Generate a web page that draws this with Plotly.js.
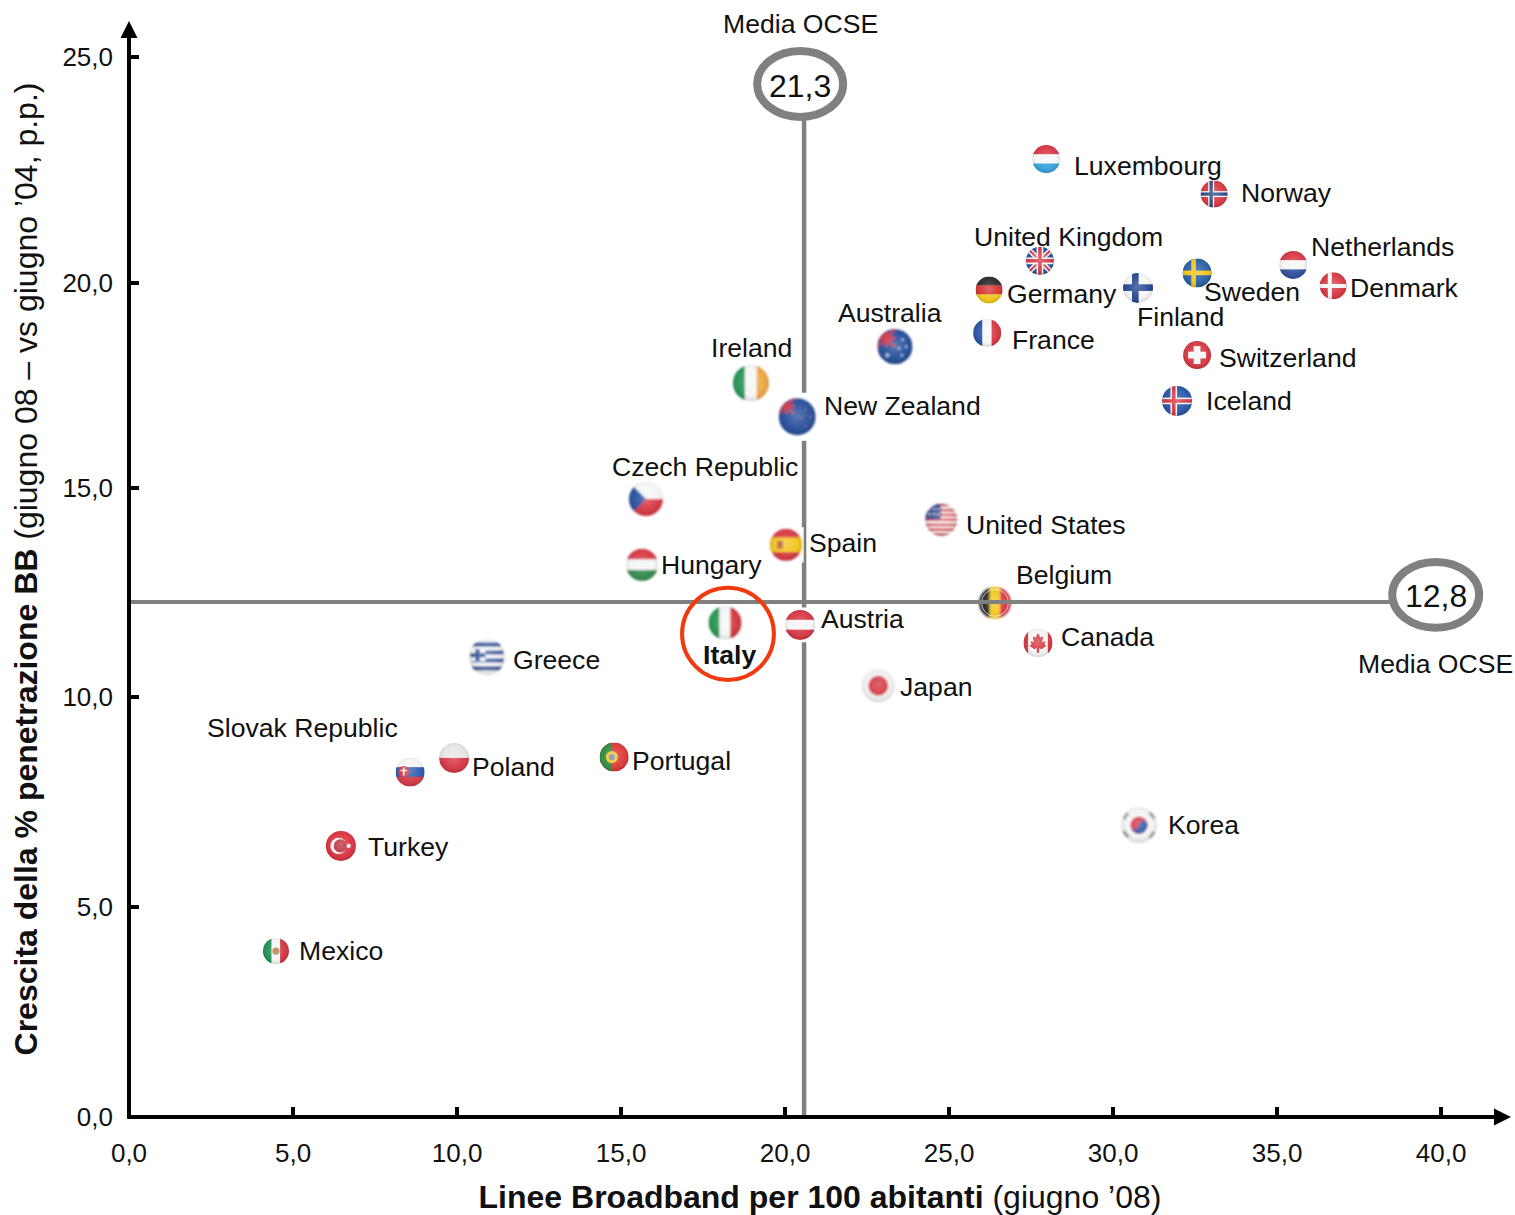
<!DOCTYPE html>
<html>
<head>
<meta charset="utf-8">
<script src="https://cdn.plot.ly/plotly-3.0.1.min.js"></script>
<style>html,body{margin:0;padding:0;background:#fff}#chart{width:1515px;height:1215px}</style>
</head>
<body>
<div id="chart"></div>
<script>
// ---- data ----
const countries = ["Luxembourg","Norway","United Kingdom","Netherlands","Sweden","Denmark","Germany","Finland","France","Switzerland","Iceland","Australia","Ireland","New Zealand","Czech Republic","Spain","Hungary","United States","Belgium","Italy","Austria","Canada","Japan","Greece","Slovak Republic","Poland","Portugal","Turkey","Mexico","Korea"];
const linesPer100 = [27.96,33.08,27.77,35.49,32.56,36.71,26.22,30.76,26.16,32.56,31.95,23.35,18.96,20.37,15.76,20.03,15.64,24.76,26.40,18.17,20.46,27.71,22.84,10.91,8.57,9.91,14.79,6.46,4.48,30.79];
const growth = [22.97,22.13,20.53,20.43,20.24,19.93,19.83,19.88,18.80,18.27,17.17,18.47,17.60,16.79,14.82,13.72,13.24,14.32,12.33,11.85,11.80,11.37,10.34,11.03,8.27,8.61,8.63,6.50,3.98,7.00];
const oecdLineX = 20.58;
const oecdLineY = 12.35;
const oecdValueX = "21,3";
const oecdValueY = "12,8";
const oecdLabel = "Media OCSE";
const xTickVals = [0,5,10,15,20,25,30,35,40];
const xTickText = ["0,0","5,0","10,0","15,0","20,0","25,0","30,0","35,0","40,0"];
// the original's vertical axis is not evenly spaced: tick positions are read from the picture
const yTickVals = [0,5.03,10.08,15.08,20,25.42];
const yTickText = ["0,0","5,0","10,0","15,0","20,0","25,0"];

// ---- layout helpers (not data) ----
const PXX = 32.8, PXY = 41.7;
const labelDx = [28,27,-66,18,7,17,18,-1,25,22,29,-57,-40,27,-34,23,19,25,21,-22,21,23,22,26,-203,18,18,27,23,29];
const labelDy = [-7,1,24,18,-19,-2,-4,-29,-7,-3,0,34,35,11,32,2,0,-5,28,-32,6,6,-1,-3,44,-9,-4,-1,0,0];
const flagPx = [28,27,28,28,29,27,27,30,28,28,30,35,36,37,34,32,32,32,32,33,30,29,33,36,29,30,29,30,26,36];
const halo = {"New Zealand":65,"Austria":58,"Spain":55};
const FONT = '"Liberation Sans", Arial, sans-serif';
const INK = '#111111', GREY = '#808080';

const R='#d5303c',W='#f6f6f6',B='#1f4a9c',G='#1d9148',Y='#f3c312',K='#222222';
const rect=(x,y,w,h,c)=>`<rect x="${x}" y="${y}" width="${w}" height="${h}" fill="${c}"/>`;
const hs=(a,b,c)=>rect(0,0,100,34,a)+rect(0,33,100,34,b)+rect(0,66,100,34,c);
const vs=(a,b,c)=>rect(0,0,34,100,a)+rect(33,0,34,100,b)+rect(66,0,34,100,c);
const nordic=(bg,o,i)=>rect(0,0,100,100,bg)+(o?rect(28,0,22,100,o)+rect(0,39,100,22,o):'')+rect(33,0,12,100,i)+rect(0,44,100,12,i);
const ukCorner=(s)=>`<g transform="scale(${s})"><rect width="100" height="100" fill="${B}"/><path d="M0 0L100 100M100 0L0 100" stroke="${W}" stroke-width="18"/><path d="M0 0L100 100M100 0L0 100" stroke="${R}" stroke-width="7"/><path d="M50 0V100M0 50H100" stroke="${W}" stroke-width="24"/><path d="M50 0V100M0 50H100" stroke="${R}" stroke-width="13"/></g>`;
const nzCorner=(s)=>`<g transform="scale(${s})"><rect width="100" height="100" fill="${B}"/><path d="M0 0L100 100M100 0L0 100" stroke="${R}" stroke-width="14"/><path d="M50 0V100M0 50H100" stroke="${R}" stroke-width="18"/></g>`;
const star=(x,y,r,c)=>`<circle cx="${x}" cy="${y}" r="${r}" fill="${c}"/>`;
const flags = {
 "Luxembourg":hs(R,W,'#2f9fdc'),
 "Norway":nordic(R,W,'#23417f'),
 "United Kingdom":ukCorner(1),
 "Netherlands":hs(R,W,'#27499a'),
 "Sweden":rect(0,0,100,100,'#1f5aa0')+rect(30,0,16,100,Y)+rect(0,42,100,16,Y),
 "Denmark":rect(0,0,100,100,R)+rect(30,0,15,100,W)+rect(0,43,100,15,W),
 "Germany":hs(K,'#d42a2a',Y),
 "Finland":rect(0,0,100,100,W)+rect(30,0,22,100,'#1d3f8f')+rect(0,38,100,22,'#1d3f8f'),
 "France":vs('#1f4ea3',W,R),
 "Switzerland":rect(0,0,100,100,R)+rect(38,18,24,64,W)+rect(18,38,64,24,W),
 "Iceland":nordic('#1f4fa5',W,R),
 "Australia":rect(0,0,100,100,'#1c4696')+nzCorner(.5)+star(72,30,4,'#9fb6dd')+star(82,50,4,'#9fb6dd')+star(62,55,4,'#9fb6dd')+star(70,75,4,'#9fb6dd')+star(28,75,6,'#9fb6dd'),
 "Ireland":vs('#1f9150',W,'#eea438'),
 "New Zealand":rect(0,0,100,100,'#1c4696')+nzCorner(.42)+star(72,30,3,'#8a5a8a')+star(85,50,3,'#8a5a8a')+star(62,55,3,'#8a5a8a')+star(72,75,3,'#8a5a8a'),
 "Czech Republic":rect(0,0,100,50,W)+rect(0,50,100,50,R)+'<path d="M0 0L50 50L0 100Z" fill="#1d4a9e"/>',
 "Spain":rect(0,0,100,100,R)+rect(0,27,100,46,Y)+rect(22,38,18,24,'#b0553a'),
 "Hungary":hs(R,W,'#2b8a49'),
 "United States":rect(0,0,100,100,W)+[0,16,31,46,62,77,92].map(y=>rect(0,y,100,8,R)).join('')+rect(0,0,48,48,'#26478f')+star(14,16,3,W)+star(28,16,3,W)+star(40,16,3,W)+star(14,32,3,W)+star(28,32,3,W)+star(40,32,3,W),
 "Belgium":vs(K,Y,R),
 "Italy":vs('#1d9148',W,'#cf2e36'),
 "Austria":hs(R,W,R),
 "Canada":rect(0,0,100,100,W)+rect(0,0,16,100,R)+rect(84,0,16,100,R)+`<path d="M50 16L58 32L68 28L64 48L76 44L72 56L80 60L62 72L54 68V84H46V68L38 72L20 60L28 56L24 44L36 48L32 28L42 32Z" fill="${R}"/>`,
 "Japan":rect(0,0,100,100,'#f2f2f2')+star(50,50,30,'#d22b36'),
 "Greece":rect(0,0,100,100,W)+[10,32,54,76].map(y=>rect(6,y,90,11,'#2a4f99')).join('')+rect(4,28,42,34,W)+rect(18,28,12,34,'#2a4f99')+rect(4,39,42,12,'#2a4f99'),
 "Slovak Republic":hs(W,'#2255ad',R)+star(28,48,19,R)+rect(25,34,6,28,W)+rect(17,42,22,5,W),
 "Poland":rect(0,0,100,50,'#e6e6e6')+rect(0,50,100,50,'#d4303c'),
 "Portugal":rect(0,0,100,100,'#d9322e')+rect(0,0,42,100,'#2b8a3c')+`<circle cx="42" cy="50" r="21" fill="#ecc22c"/><circle cx="42" cy="50" r="10" fill="#6d86b8"/>`,
 "Turkey":rect(0,0,100,100,'#d92c38')+`<circle cx="42" cy="50" r="27" fill="#f7f7f7"/><circle cx="48" cy="50" r="22" fill="#b82730"/>`+star(76,50,7,W),
 "Mexico":vs('#1c8c4d',W,'#cc2d38')+star(50,50,14,'#a8893b')+star(50,46,7,'#cc4a3a'),
 "Korea":rect(0,0,100,100,'#f4f4f4')+'<circle cx="50" cy="50" r="24" fill="#d4283c"/><path d="M26 50A12 12 0 0 0 50 50A12 12 0 0 1 74 50A24 24 0 0 1 26 50Z" fill="#1c4fa0"/>'+'<path d="M8 32L20 16M80 16L94 32M8 68L20 84M80 84L94 68" stroke="#555" stroke-width="9" stroke-dasharray="4 3" fill="none"/>'
};
function flagUri(name){
  const h = halo[name] ? `<rect x="${50-halo[name]}" y="${50-halo[name]}" width="${2*halo[name]}" height="${2*halo[name]}" fill="#fff"/>` : '';
  const svg = `<svg xmlns="http://www.w3.org/2000/svg" width="320" height="320" viewBox="-30 -30 160 160"><defs><clipPath id="c"><circle cx="50" cy="50" r="50"/></clipPath><filter id="b" x="-10%" y="-10%" width="120%" height="120%"><feGaussianBlur stdDeviation="2.6"/></filter><radialGradient id="g" cx="50%" cy="46%" r="55%"><stop offset="0" stop-color="#fff" stop-opacity=".28"/><stop offset=".65" stop-color="#fff" stop-opacity=".08"/><stop offset="1" stop-color="#000" stop-opacity=".16"/></radialGradient></defs>${h}<g filter="url(#b)"><g clip-path="url(#c)">${flags[name]}<circle cx="50" cy="50" r="50" fill="url(#g)"/></g></g></svg>`;
  return 'data:image/svg+xml;base64,' + btoa(svg);
}

const images = countries.map((c,i)=>({
  source: flagUri(c), xref:'x', yref:'y', x:linesPer100[i], y:growth[i],
  sizex: flagPx[i]*1.6/PXX, sizey: flagPx[i]*1.6/PXY, xanchor:'center', yanchor:'middle',
  sizing:'stretch', layer: c==='Belgium' ? 'below' : 'above'
}));

const labels = countries.map((c,i)=>({
  x:linesPer100[i], y:growth[i], xref:'x', yref:'y', text: c==='Italy' ? '<b>Italy</b>' : c,
  showarrow:false, xanchor:'left', yanchor:'middle', xshift:labelDx[i], yshift:labelDy[i],
  font:{family:FONT,size:26.6,color:INK}, borderpad:0, borderwidth:0
}));
const yTop = 26.28, xEnd = 42.13;
const free = (x,y,text,size)=>({x,y,xref:'x',yref:'y',text,showarrow:false,xanchor:'center',yanchor:'middle',font:{family:FONT,size,color:INK}});
const arrow = (x,y,ax,ay)=>({x,y,ax,ay,xref:'x',yref:'y',axref:'x',ayref:'y',text:' ',font:{size:1},borderpad:0,showarrow:true,arrowhead:2,arrowsize:0.85,arrowwidth:4,arrowcolor:'#000',standoff:0});

const traces = [
 {type:'scatter',mode:'markers',x:linesPer100,y:growth,text:countries,hoverinfo:'text',cliponaxis:false,
  marker:{size:flagPx.map(d=>d-5),color:countries.map(c=>c==='Belgium'?'rgba(0,0,0,0)':'#cccccc')},showlegend:false},
 {type:'scatter',mode:'lines',x:[oecdLineX,oecdLineX],y:[0,23.96],line:{color:GREY,width:4.5},hoverinfo:'skip',showlegend:false},
 {type:'scatter',mode:'lines',x:[0,38.5],y:[oecdLineY,oecdLineY],line:{color:GREY,width:4},hoverinfo:'skip',showlegend:false}
];

const layout = {
 width:1515,height:1215,margin:{l:129,r:4,t:21,b:98,pad:0},
 paper_bgcolor:'#fff',plot_bgcolor:'#fff',showlegend:false,
 xaxis:{range:[0,xEnd],tickmode:'array',tickvals:xTickVals,ticktext:xTickText,showgrid:false,zeroline:false,showline:false,
   ticks:'inside',ticklen:10,tickwidth:4,tickcolor:'#000',tickfont:{family:FONT,size:26,color:INK},ticklabelstandoff:18,
   title:{text:"<b>Linee Broadband per 100 abitanti</b> (giugno ’08)",font:{family:FONT,size:32,color:INK},standoff:24},automargin:false},
 yaxis:{range:[0,yTop],tickmode:'array',tickvals:yTickVals,ticktext:yTickText,showgrid:false,zeroline:false,showline:false,
   ticks:'inside',ticklen:10,tickwidth:4,tickcolor:'#000',tickfont:{family:FONT,size:26,color:INK},ticklabelstandoff:15,
   title:{text:"<b>Crescita della % penetrazione BB</b> (giugno 08 – vs giugno ’04, p.p.)",font:{family:FONT,size:32,color:INK},standoff:15},automargin:false},
 images,
 shapes:[
  {type:'circle',xref:'x',yref:'y',x0:19.15,x1:21.77,y0:23.98,y1:25.56,line:{color:GREY,width:8},fillcolor:'#fff',layer:'above'},
  {type:'circle',xref:'x',yref:'y',x0:38.51,x1:41.16,y0:11.73,y1:13.31,line:{color:GREY,width:8},fillcolor:'#fff',layer:'above'},
  {type:'circle',xref:'x',yref:'y',x0:16.86,x1:19.66,y0:10.48,y1:12.69,line:{color:'#f03a10',width:4},fillcolor:'rgba(0,0,0,0)',layer:'above'}
 ],
 annotations:labels.concat([
  free(20.46,26.21,oecdLabel,26.6), free(20.46,24.72,oecdValueX,32),
  free(39.85,12.49,oecdValueY,32), free(39.82,10.86,oecdLabel,26.6),
  arrow(0,yTop,0,-0.06), arrow(xEnd,0,-0.06,0)
 ])
};
Plotly.newPlot('chart',traces,layout,{displayModeBar:false,staticPlot:true});
</script>
</body>
</html>
